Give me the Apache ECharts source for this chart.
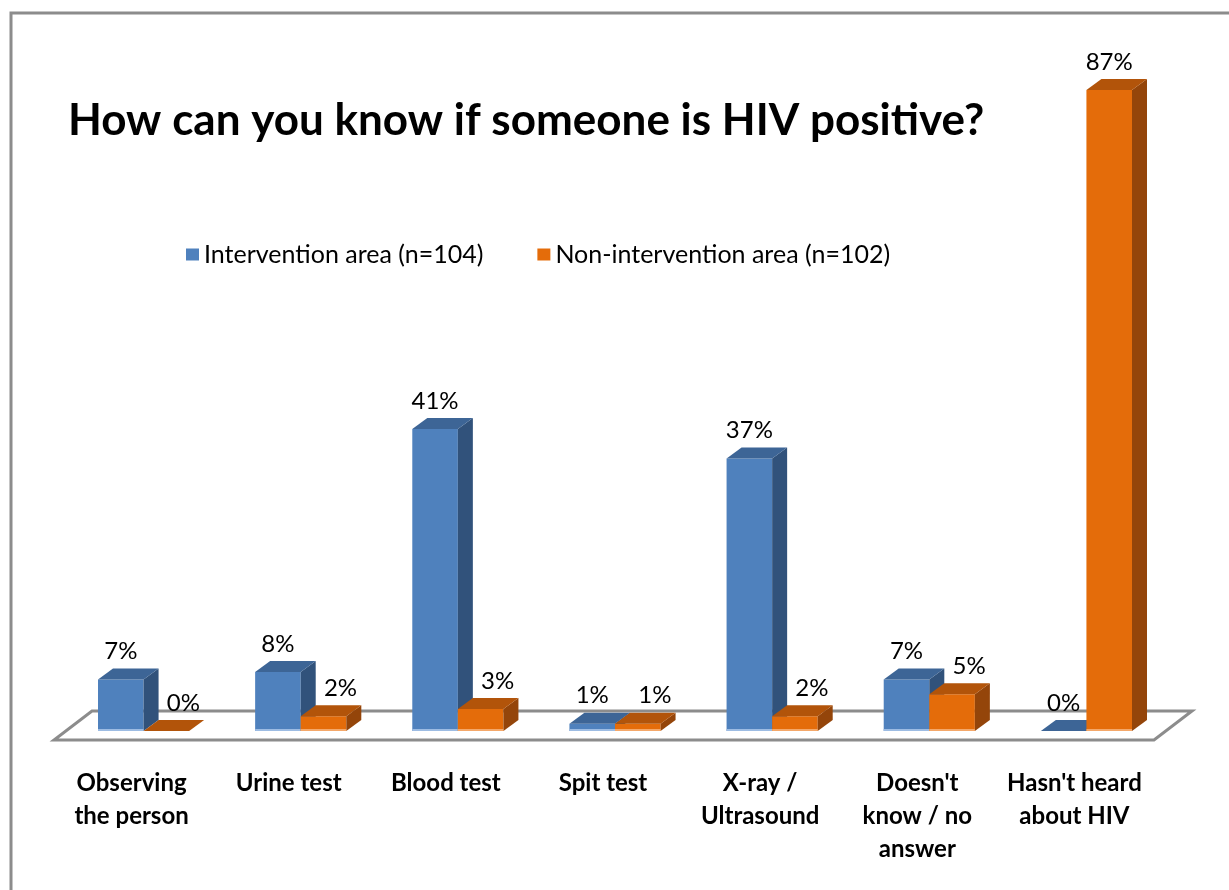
<!DOCTYPE html>
<html>
<head>
<meta charset="utf-8">
<script src="https://cdn.jsdelivr.net/npm/echarts@6/dist/echarts.min.js"></script>
<style>
html,body{margin:0;padding:0;background:#fff;}
#c{width:1229px;height:890px;}
</style>
</head>
<body>
<div id="c"></div>
<script>
var categories = ["Observing\nthe person", "Urine test", "Blood test", "Spit test", "X-ray /\nUltrasound", "Doesn't\nknow / no\nanswer", "Hasn't heard\nabout HIV"];
var intervention = [7, 8, 41, 1, 37, 7, 0];
var nonIntervention = [0, 2, 3, 1, 2, 5, 87];
var seriesNames = ["Intervention area (n=104)", "Non-intervention area (n=102)"];
var titleText = "How can you know if someone is HIV positive?";

var FONT = "Lato, 'Open Sans', sans-serif";
var PAL = [
  {front:'#4F81BD', top:'#3D6596', side:'#31527B', base:'#9DBCE3'},
  {front:'#E46C0A', top:'#B2540A', side:'#94450A', base:'#F4A86A'}
];

function renderBar(params, api) {
  var cat = api.value(0), v = api.value(1);
  var band = api.size([1, 0])[0];
  var w = band * 0.29;
  var c = api.coord([cat, 0]);
  var t = api.coord([cat, v]);
  var si = params.seriesIndex - 1;
  var x0 = si === 0 ? c[0] - w : c[0];
  var yb = c[1], yt = t[1];
  var dx = 15, dy = 11;
  var p = PAL[si];
  var children = [];
  if (yb - yt > 0.5) {
    children.push({type:'rect', shape:{x:x0, y:yt, width:w, height:yb - yt}, style:{fill:p.front}});
    children.push({type:'polygon', shape:{points:[[x0 + w, yt], [x0 + w + dx, yt - dy], [x0 + w + dx, yb - dy], [x0 + w, yb]]}, style:{fill:p.side}});
    children.push({type:'line', shape:{x1:x0, y1:yb - 1, x2:x0 + w, y2:yb - 1}, style:{stroke:p.base, lineWidth:2}});
  }
  children.push({type:'polygon', shape:{points:[[x0, yt], [x0 + dx, yt - dy], [x0 + w + dx, yt - dy], [x0 + w, yt]]}, style:{fill:p.top}});
  var off = (si === 1 && v < 50) ? 17 : 0;
  children.push({type:'text', x:x0 + w / 2 + off, y:yt - 28, style:{text:v + '%', fill:'#000', font:'24px ' + FONT, align:'center', verticalAlign:'middle'}});
  return {type:'group', children:children};
}

function renderFloor(params, api) {
  var cs = params.coordSys;
  var y0 = cs.y + cs.height;
  var xl = cs.x, xr = cs.x + cs.width;
  return {
    type:'polygon',
    shape:{points:[[xl - 11, y0 + 9], [xr - 11, y0 + 9], [xr + 27, y0 - 20], [xl + 27, y0 - 20]]},
    style:{fill:'#fff', stroke:'#8c8c8c', lineWidth:3, lineJoin:'miter'}
  };
}

function pairs(arr) { return arr.map(function (v, i) { return [i, v]; }); }

var chart = echarts.init(document.getElementById('c'), null, {renderer:'canvas'});
chart.setOption({
  backgroundColor:'#fff',
  animation:false,
  title:{text:titleText, left:63, top:94, textStyle:{fontFamily:FONT, fontWeight:'bold', fontSize:44, color:'#000'}},
  legend:{
    data:seriesNames, left:181, top:237, itemWidth:13, itemHeight:12, itemGap:54, icon:'rect',
    textStyle:{fontFamily:FONT, fontSize:25, color:'#000'}
  },
  graphic:[{type:'polyline', shape:{points:[[11, 890], [11, 13], [1229, 13]]}, style:{stroke:'#8c8c8c', lineWidth:3, fill:null}}],
  grid:{left:65, right:64, top:68, bottom:159},
  xAxis:{
    type:'category', data:categories,
    axisLine:{show:false}, axisTick:{show:false}, splitLine:{show:false},
    axisLabel:{interval:0, margin:36, fontFamily:FONT, fontWeight:'bold', fontSize:24, lineHeight:33, color:'#000', padding:[0, 24, 0, 0]}
  },
  yAxis:{type:'value', min:0, max:90, show:false, splitLine:{show:false}},
  series:[
    {type:'custom', z:1, renderItem:renderFloor, data:[[0, 0]], silent:true},
    {type:'custom', name:seriesNames[0], z:3, renderItem:renderBar, data:pairs(intervention), itemStyle:{color:PAL[0].front}},
    {type:'custom', name:seriesNames[1], z:4, renderItem:renderBar, data:pairs(nonIntervention), itemStyle:{color:PAL[1].front}}
  ]
});
</script>
</body>
</html>
